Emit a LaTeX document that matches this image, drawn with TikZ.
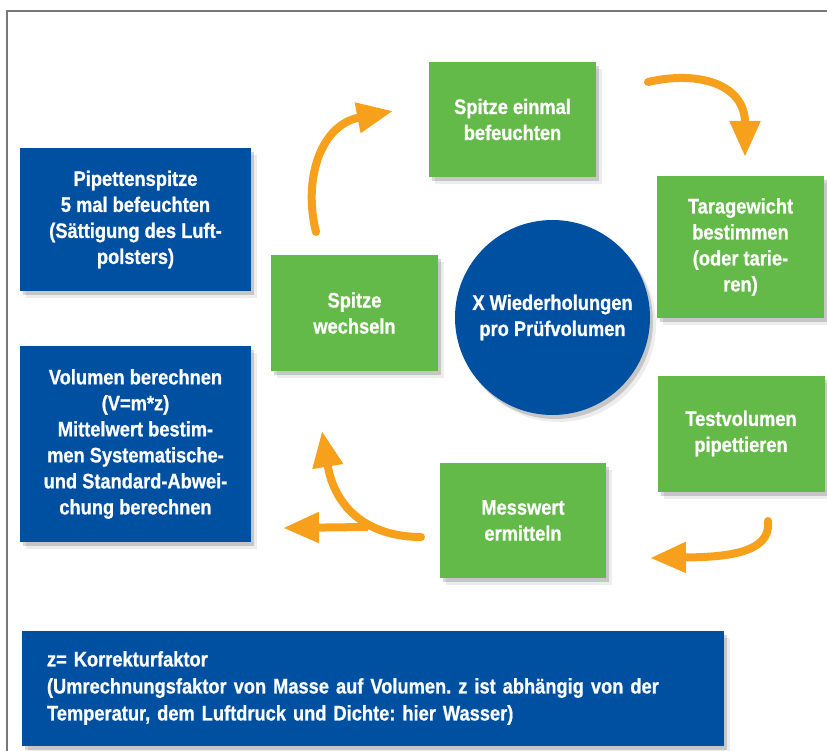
\documentclass[tikz,border=0pt]{standalone}
\usepackage{fontspec}
\setmainfont{Liberation Sans}[FakeStretch=0.87,BoldFeatures={FakeBold=0.8}]
\usetikzlibrary{arrows.meta,shadows}
\definecolor{mblue}{RGB}{0,80,162}
\definecolor{mgreen}{RGB}{99,186,72}
\definecolor{morange}{RGB}{247,160,27}
\definecolor{mframe}{RGB}{120,120,120}
\frenchspacing
\begin{document}
\begin{tikzpicture}[x=1pt,y=-1pt,
  sh/.style={drop shadow={shadow xshift=3pt,shadow yshift=-4pt,fill=black,opacity=.16},
             drop shadow={shadow xshift=6pt,shadow yshift=-7pt,fill=black,opacity=.07}},
  box/.style={rectangle, draw=none, text=white, align=center,
              font=\bfseries\fontsize{21pt}{26pt}\selectfont, inner sep=0pt, sh},
  bluebox/.style={box, fill=mblue},
  greenbox/.style={box, fill=mgreen},
  flow/.style={draw=morange, line width=8pt, line cap=round,
               -{Triangle[length=36pt,width=29pt]}}]
\fill[white] (0,0) rectangle (827,751);
\useasboundingbox (0,0) rectangle (827,751);
\draw[mframe, line width=1.5pt] (7,751) -- (7,11) -- (827,11);

\node[bluebox, minimum width=231pt, minimum height=143pt] (pip) at (135.5,219.5)
  {Pipettenspitze\\5 mal befeuchten\\(Sättigung des Luft-\\polsters)};
\node[bluebox, minimum width=231pt, minimum height=196pt] (vol) at (135.5,444)
  {Volumen berechnen\\(V=m*z)\\Mittelwert bestim-\\men Systematische-\\und Standard-Abwei-\\chung berechnen};
\node[greenbox, minimum width=167pt, minimum height=116pt] (wech) at (354.5,313)
  {Spitze\\wechseln};
\node[greenbox, minimum width=167pt, minimum height=115pt] (bef) at (512.5,119.5)
  {Spitze einmal\\befeuchten};
\node[greenbox, minimum width=167pt, minimum height=142pt] (tara) at (740.5,247)
  {Taragewicht\\bestimmen\\(oder tarie-\\ren)};
\node[greenbox, minimum width=167pt, minimum height=116pt] (test) at (741,433.5)
  {Testvolumen\\pipettieren};
\node[greenbox, minimum width=166pt, minimum height=115pt] (mess) at (523,520.5)
  {Messwert\\ermitteln};
\node[box, circle, fill=mblue, minimum size=195pt] (wdh) at (552.5,317.5)
  {X Wiederholungen\\pro Prüfvolumen};
\node[bluebox, minimum width=702pt, minimum height=115pt, text width=652pt,
      align=left, font=\bfseries\fontsize{21pt}{27pt}\selectfont] (korr) at (373,688)
  {z= Korrekturfaktor\\(Umrechnungsfaktor von Masse auf Volumen. z ist abhängig von der\\Temperatur, dem Luftdruck und Dichte: hier Wasser)};

\coordinate (a1s) at (316,232);  \coordinate (a1e) at (393,111);
\coordinate (a2s) at (648,82);   \coordinate (a2e) at (745,157);
\coordinate (a3s) at (768,521);  \coordinate (a3e) at (650,558);
\coordinate (a4s) at (421,537);  \coordinate (a4e) at (322,431);
\coordinate (a5s) at (368,527);  \coordinate (a5e) at (283,528);

\draw[flow] (a1s) .. controls (303,180) and (320,125) .. (a1e);
\draw[flow] (a2s) .. controls (700,70) and (745,85) .. (a2e);
\draw[flow] (a3s) .. controls (772,555) and (720,557) .. (a3e);
\draw[flow] (a4s) .. controls (370,537) and (335,510) .. (a4e);
\draw[flow, line cap=butt] (a5s) -- (a5e);
\end{tikzpicture}
\end{document}
